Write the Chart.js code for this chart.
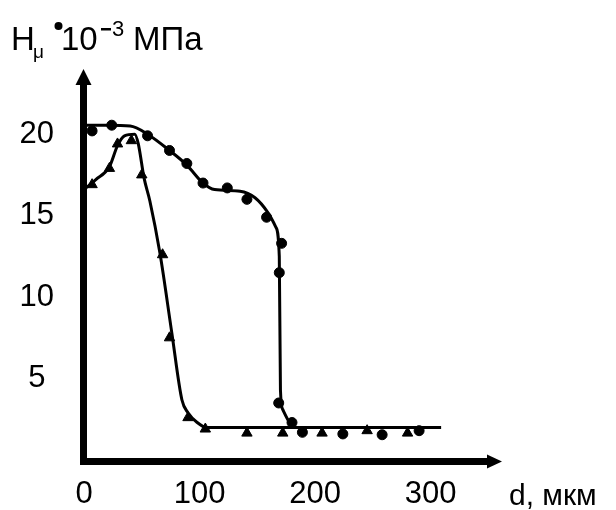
<!DOCTYPE html>
<html>
<head>
<meta charset="utf-8">
<script src="https://cdn.jsdelivr.net/npm/chart.js@4"></script>
<style>
  html, body { margin: 0; padding: 0; background: #fff; }
  canvas { display: block; }
</style>
</head>
<body>
<canvas id="chart" width="616" height="510"></canvas>
<script>
// measured points (d in mkm, H in 10^3 MPa)
const dCircle = [7, 24, 55, 74, 89, 103, 124, 141, 158, 171, 169, 168.5, 180, 189, 224, 258, 290];
const hCircle = [20.2, 20.55, 19.9, 19.0, 18.2, 17.0, 16.7, 16.0, 14.9, 13.3, 11.5, 3.5, 2.3, 1.7, 1.6, 1.55, 1.8];
const dTriangle = [7, 22, 29, 41, 50, 68, 74, 90, 105, 141, 172, 206, 245, 280];
const hTriangle = [16.9, 17.9, 19.4, 19.6, 17.5, 12.6, 7.5, 2.6, 1.9, 1.65, 1.65, 1.65, 1.8, 1.65];

// smoothed curves drawn through the points
const dCircleFit = [0, 20, 40, 55, 74, 89, 103, 113, 135, 148, 159, 166, 169, 170, 172, 178, 184, 200, 250, 309];
const hCircleFit = [20.55, 20.55, 20.5, 20.0, 19.0, 18.1, 17.0, 16.6, 16.5, 16.1, 15.2, 14.3, 12.5, 4.3, 3.1, 2.3, 2.0, 2.0, 2.0, 2.0];
const dTriangleFit = [0, 10, 22, 29, 35, 44, 47, 52, 57, 65.7, 76, 84.7, 90, 98, 106, 150, 200, 309];
const hTriangleFit = [16.6, 17.2, 18.0, 19.3, 19.9, 20.0, 19.4, 17.3, 15.9, 12.7, 7.8, 3.7, 2.9, 2.3, 2.0, 2.0, 2.0, 2.0];

const xTicks = [0, 100, 200, 300];
const yTicks = [5, 10, 15, 20];

const toXY = (xs, ys) => xs.map((x, i) => ({ x: x, y: ys[i] }));

const FONT = 'Liberation Sans, Arial, sans-serif';

// axes with arrows + axis captions
const axesPlugin = {
  id: 'axesArrows',
  afterDraw(chart) {
    const ctx = chart.ctx;
    const a = chart.chartArea;
    const x0 = a.left - 0.5;
    const y0 = a.bottom + 1.5;
    ctx.save();
    ctx.strokeStyle = '#000';
    ctx.fillStyle = '#000';
    ctx.lineWidth = 7;
    ctx.lineCap = 'butt';
    ctx.beginPath();
    ctx.moveTo(x0, a.top + 10);
    ctx.lineTo(x0, y0 + 3.5);
    ctx.moveTo(x0 - 3.5, y0);
    ctx.lineTo(a.right - 10, y0);
    ctx.stroke();
    // y arrow
    ctx.beginPath();
    ctx.moveTo(x0, a.top);
    ctx.lineTo(x0 - 8, a.top + 16);
    ctx.lineTo(x0 + 8, a.top + 16);
    ctx.closePath();
    ctx.fill();
    // x arrow
    ctx.beginPath();
    ctx.moveTo(a.right + 2, y0);
    ctx.lineTo(a.right - 13, y0 - 7);
    ctx.lineTo(a.right - 13, y0 + 7);
    ctx.closePath();
    ctx.fill();

    // y caption: H_mu * 10^-3 MPa
    ctx.textBaseline = 'alphabetic';
    ctx.textAlign = 'left';
    ctx.font = '33px ' + FONT;
    ctx.fillText('H', 11, 50);
    ctx.font = '19px ' + FONT;
    ctx.fillText('\u03bc', 33, 58);
    ctx.beginPath();
    ctx.arc(58.5, 26, 4, 0, Math.PI * 2);
    ctx.fill();
    ctx.font = '33px ' + FONT;
    ctx.fillText('10', 61, 50);
    // superscript minus as a short bar, then the 3
    ctx.fillRect(101, 28, 10, 2.5);
    ctx.font = '22px ' + FONT;
    ctx.fillText('3', 112, 36);
    ctx.font = '33px ' + FONT;
    ctx.fillText('M\u041f\u0430', 133, 50);

    // x caption
    ctx.font = '30px ' + FONT;
    ctx.fillText('d, \u043c\u043a\u043c', 509, 505);
    ctx.restore();
  }
};

new Chart(document.getElementById('chart'), {
  type: 'scatter',
  data: {
    datasets: [
      {
        data: toXY(dCircleFit, hCircleFit),
        showLine: true,
        borderColor: '#000',
        borderWidth: 3,
        pointRadius: 0,
        cubicInterpolationMode: 'monotone'
      },
      {
        data: toXY(dTriangleFit, hTriangleFit),
        showLine: true,
        borderColor: '#000',
        borderWidth: 3,
        pointRadius: 0,
        cubicInterpolationMode: 'monotone'
      },
      {
        data: toXY(dCircle, hCircle),
        pointStyle: 'circle',
        pointRadius: 5,
        backgroundColor: '#000',
        borderColor: '#000',
        borderWidth: 1
      },
      {
        data: toXY(dTriangle, hTriangle),
        pointStyle: 'triangle',
        pointRadius: 6,
        backgroundColor: '#000',
        borderColor: '#000',
        borderWidth: 1
      }
    ]
  },
  options: {
    responsive: false,
    animation: false,
    devicePixelRatio: 1,
    layout: { padding: { left: 0, top: 69, right: 116, bottom: 0 } },
    plugins: {
      legend: { display: false },
      tooltip: { enabled: false }
    },
    scales: {
      x: {
        type: 'linear',
        min: 0,
        max: 360,
        grid: { display: false, drawTicks: false },
        border: { display: false },
        afterBuildTicks: (scale) => { scale.ticks = xTicks.map(v => ({ value: v })); },
        afterFit: (scale) => { scale.height = 50; },
        ticks: {
          color: '#000',
          padding: 16,
          font: { family: FONT, size: 31 }
        }
      },
      y: {
        type: 'linear',
        min: 0,
        max: 24,
        grid: { display: false, drawTicks: false },
        border: { display: false },
        afterBuildTicks: (scale) => { scale.ticks = yTicks.map(v => ({ value: v })); },
        afterFit: (scale) => { scale.width = 84; },
        ticks: {
          color: '#000',
          padding: 30,
          crossAlign: 'center',
          font: { family: FONT, size: 31 }
        }
      }
    }
  },
  plugins: [axesPlugin]
});
</script>
</body>
</html>
